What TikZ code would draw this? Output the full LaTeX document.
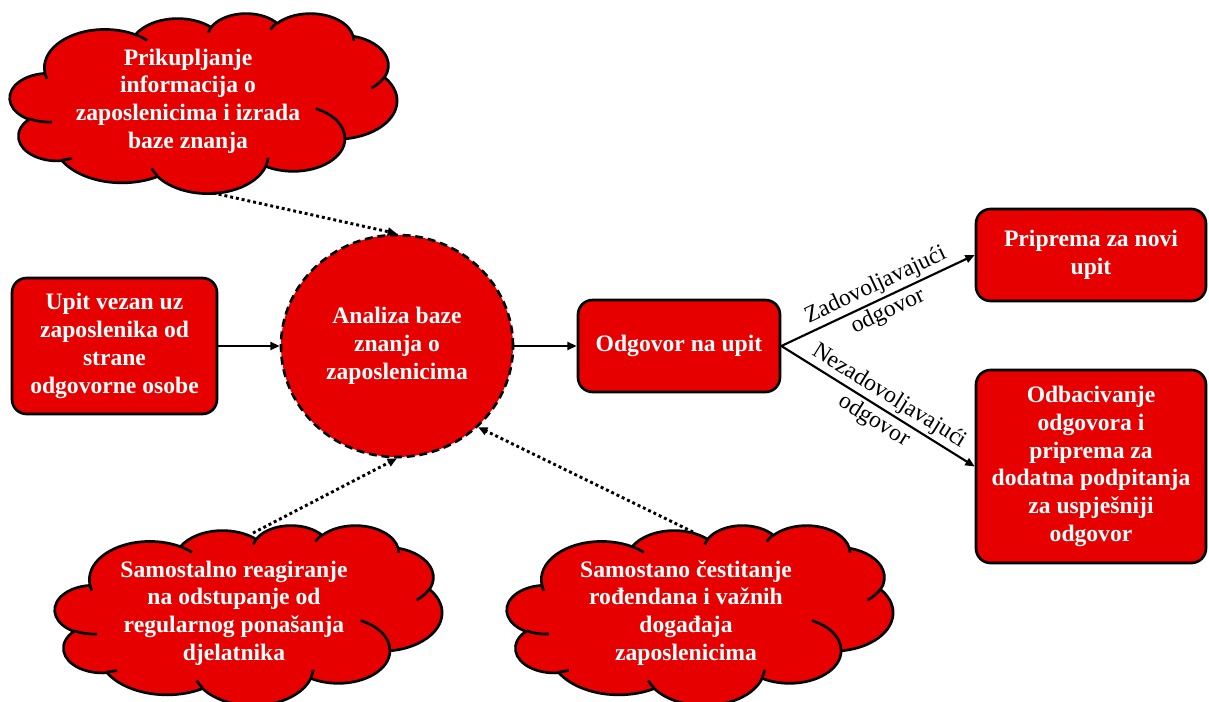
\documentclass[tikz,border=0pt]{standalone}
\usepackage{fontspec}
\setmainfont{Liberation Serif}
\usetikzlibrary{arrows.meta,shapes.geometric}
\definecolor{myred}{RGB}{230,0,0}

% convert a DrawingML visual-angle arc (wR,hR,stAng,swAng) to parametric angles
\newcommand\vtp[4]{%
 \pgfmathsetmacro\cldS{atan2((#1)*sin(#3),(#2)*cos(#3))}%
 \pgfmathsetmacro\cldE{atan2((#1)*sin((#3)+(#4)),(#2)*cos((#3)+(#4)))}%
 \pgfmathsetmacro\cldD{(#4)>0 ? mod((\cldE)-(\cldS)+720,360) : -mod((\cldS)-(\cldE)+720,360)}%
}

\newcommand\pptcloud[4]{%
 \begin{scope}[shift={(#1,#2)}, xscale=#3/4320, yscale=#4/4320]
  \draw[cloudline, fill=myred] (390,1437)
   \pgfextra{\vtp{675.3}{919.0}{-190.48748}{123.78053}} arc[start angle=\cldS, delta angle=\cldD, x radius=675.3, y radius=919.0]
   \pgfextra{\vtp{533.3}{726.7}{-144.10238}{89.94523}} arc[start angle=\cldS, delta angle=\cldD, x radius=533.3, y radius=726.7]
   \pgfextra{\vtp{436.5}{594.5}{-145.80792}{99.72302}} arc[start angle=\cldS, delta angle=\cldD, x radius=436.5, y radius=594.5]
   \pgfextra{\vtp{485.7}{659.5}{-130.98607}{117.24173}} arc[start angle=\cldS, delta angle=\cldD, x radius=485.7, y radius=659.5]
   \pgfextra{\vtp{533.3}{727.3}{-78.70888}{109.02692}} arc[start angle=\cldS, delta angle=\cldD, x radius=533.3, y radius=727.3]
   \pgfextra{\vtp{677.5}{922.0}{-46.26725}{130.269}} arc[start angle=\cldS, delta angle=\cldD, x radius=677.5, y radius=922.0]
   \pgfextra{\vtp{578.5}{786.7}{0.62502}{114.03333}} arc[start angle=\cldS, delta angle=\cldD, x radius=578.5, y radius=786.7]
   \pgfextra{\vtp{675.2}{921.5}{22.4516}{115.17255}} arc[start angle=\cldS, delta angle=\cldD, x radius=675.2, y radius=921.5]
   \pgfextra{\vtp{772.0}{1054.3}{66.24263}{75.71102}} arc[start angle=\cldS, delta angle=\cldD, x radius=772.0, y radius=1054.3]
   \pgfextra{\vtp{436.0}{591.8}{-274.94208}{146.73557}} arc[start angle=\cldS, delta angle=\cldD, x radius=436.0, y radius=591.8]
   \pgfextra{\vtp{434.5}{594.5}{-246.8285}{152.51885}} arc[start angle=\cldS, delta angle=\cldD, x radius=434.5, y radius=594.5]
   -- cycle;
  \draw[cloudline]
   (469.3,2617.7) \pgfextra{\vtp{434.5}{594.5}{86.742}{26.4295}} arc[start angle=\cldS, delta angle=\cldD, x radius=434.5, y radius=594.5]
   (692.8,3489.9) \pgfextra{\vtp{436.0}{591.8}{73.61047}{11.44747}} arc[start angle=\cldS, delta angle=\cldD, x radius=436.0, y radius=591.8]
   (1647.8,3909.0) \pgfextra{\vtp{675.2}{921.5}{137.62415}{14.0811}} arc[start angle=\cldS, delta angle=\cldD, x radius=675.2, y radius=921.5]
   (2882.7,3475.1) \pgfextra{\vtp{675.2}{921.5}{6.45327}{15.99835}} arc[start angle=\cldS, delta angle=\cldD, x radius=675.2, y radius=921.5]
   (3412.9,2295.4) \pgfextra{\vtp{578.5}{786.7}{-70.29235}{70.91737}} arc[start angle=\cldS, delta angle=\cldD, x radius=578.5, y radius=786.7]
   (4179.8,1535.4) \pgfextra{\vtp{533.3}{727.3}{30.31803}{27.7515}} arc[start angle=\cldS, delta angle=\cldD, x radius=533.3, y radius=727.3]
   (3832.4,542.6) \pgfextra{\vtp{485.7}{659.5}{-13.74433}{14.8589}} arc[start angle=\cldS, delta angle=\cldD, x radius=485.7, y radius=659.5]
   (2907.8,395.2) \pgfextra{\vtp{485.7}{659.5}{-149.18145}{18.19537}} arc[start angle=\cldS, delta angle=\cldD, x radius=485.7, y radius=659.5]
   (2214.1,472.0) \pgfextra{\vtp{436.5}{594.5}{-163.49427}{17.68635}} arc[start angle=\cldS, delta angle=\cldD, x radius=436.5, y radius=594.5]
   (1400.0,519.2) \pgfextra{\vtp{675.3}{919.0}{-66.70695}{12.31935}} arc[start angle=\cldS, delta angle=\cldD, x radius=675.3, y radius=919.0]
   (412.7,1578.9) \pgfextra{\vtp{675.3}{919.0}{157.65435}{11.85817}} arc[start angle=\cldS, delta angle=\cldD, x radius=675.3, y radius=919.0];
 \end{scope}}

\tikzset{
 boxtext/.style={text=white, font=\bfseries\fontsize{17.7}{20.8}\selectfont, align=center},
 box/.style={boxtext, draw=black, line width=2pt, fill=myred, rounded corners=11pt, inner sep=2pt},
 cloudline/.style={draw=black, line width=2pt, line join=round},
 conn/.style={line width=1.6pt, -{Triangle[length=7pt,width=6pt]}},
 dots/.style={line width=2.2pt, dash pattern=on 2.2pt off 2.2pt, -{Triangle[length=7pt,width=6pt]}},
 lbl/.style={font=\fontsize{17.7}{21.5}\selectfont, align=center, sloped, pos=0.52, inner sep=0pt}
}

\begin{document}
\begin{tikzpicture}[x=0.75pt,y=-0.75pt]
\useasboundingbox (0,0) rectangle (1209,702);

% clouds
\pptcloud{10}{13}{387}{180}
\pptcloud{55}{525}{387}{180}
\pptcloud{507}{525}{386}{180}

\node[boxtext] (t1) at (188,101) {Prikupljanje\\informacija o\\zaposlenicima i izrada\\baze znanja};
\node[boxtext] (t2) at (234,613) {Samostalno reagiranje\\na odstupanje od\\regularnog ponašanja\\djelatnika};
\node[boxtext] (t3) at (686,613) {Samostano čestitanje\\rođendana i važnih\\događaja\\zaposlenicima};

\coordinate (s1) at (213,193);
\coordinate (s2) at (253,533);
\coordinate (s3) at (693,532);

% boxes
\node[box, minimum width=205*0.75pt, minimum height=136*0.75pt] (upit) at (114.5,346)
  {Upit vezan uz\\zaposlenika od\\strane\\odgovorne osobe};
\node[ellipse, boxtext, draw=black, line width=2pt, dash pattern=on 6pt off 3.5pt, fill=myred,
  inner sep=0pt, minimum width=232*0.75pt, minimum height=222*0.75pt] (an) at (397,346)
  {Analiza baze\\znanja o\\zaposlenicima};
\node[box, minimum width=202*0.75pt, minimum height=92*0.75pt] (odg) at (679,346) {Odgovor na upit};
\node[box, minimum width=230*0.75pt, minimum height=92*0.75pt] (prip) at (1091,255) {Priprema za novi\\upit};
\node[box, minimum width=230*0.75pt, minimum height=193*0.75pt] (odb) at (1091,466.5)
  {Odbacivanje\\odgovora i\\priprema za\\dodatna podpitanja\\za uspješniji\\odgovor};

% connectors
\draw[conn] (upit.east) -- (an.west);
\draw[conn] (an.east) -- (odg.west);
\draw[conn] (odg.east) -- node[lbl] {Zadovoljavajući\\odgovor} (prip.west);
\draw[conn] (odg.east) -- node[lbl] {Nezadovoljavajući\\odgovor} (odb.west);

\draw[dots] (s1) -- (an.north);
\draw[dots] (s2) -- (an.south);
\draw[dots] (s3) -- (an.-45);
\end{tikzpicture}
\end{document}
